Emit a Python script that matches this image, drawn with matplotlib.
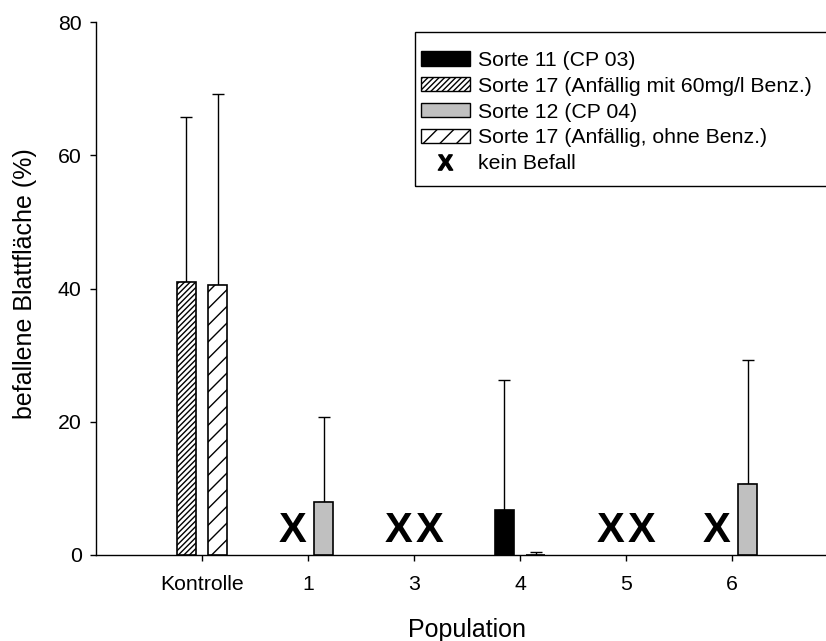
import numpy as np
import matplotlib
matplotlib.use('Agg')
import matplotlib.pyplot as plt
from matplotlib.patches import Patch, Rectangle
from matplotlib.lines import Line2D

plt.rcParams['font.family'] = ['Liberation Sans', 'DejaVu Sans']
plt.rcParams['hatch.linewidth'] = 1.0
plt.rcParams['mathtext.fontset'] = 'custom'
plt.rcParams['mathtext.bf'] = 'Liberation Sans:bold'

# nan = nicht untersucht, 0 = kein Befall (X)
populations = ['Kontrolle', '1', '3', '4', '5', '6']
sorte11 = [np.nan, 0, 0, 6.7, 0, 0]
sorte11_err = [np.nan, 0, 0, 19.5, 0, 0]
sorte12 = [np.nan, 8.0, 0, 0.05, 0, 10.6]
sorte12_err = [np.nan, 12.7, 0, 0.35, 0, 18.7]
sorte17_benz = [41.0, np.nan, np.nan, np.nan, np.nan, np.nan]
sorte17_benz_err = [24.8, np.nan, np.nan, np.nan, np.nan, np.nan]
sorte17_ohne = [40.5, np.nan, np.nan, np.nan, np.nan, np.nan]
sorte17_ohne_err = [28.7, np.nan, np.nan, np.nan, np.nan, np.nan]

fig = plt.figure(figsize=(8.26, 6.41), dpi=100)
ax = fig.add_axes([96/826, 86/641, 742/826, 533/641])

x = np.arange(len(populations))
width = 0.18
off = 0.15
dense, sparse = '//////', '//'

series = [
    (sorte11, sorte11_err, -off, dict(facecolor='black')),
    (sorte17_benz, sorte17_benz_err, -off, dict(facecolor='white', hatch=dense)),
    (sorte12, sorte12_err, off, dict(facecolor='#c0c0c0')),
    (sorte17_ohne, sorte17_ohne_err, off, dict(facecolor='white', hatch=sparse)),
]

for vals, errs, o, style in series:
    vals = np.array(vals, dtype=float)
    errs = np.array(errs, dtype=float)
    m = vals > 0
    ax.errorbar(x[m] + o, vals[m], yerr=[np.zeros(m.sum()), errs[m]], fmt='none',
                ecolor='black', elinewidth=1, capsize=4.3, capthick=1, zorder=2)
    ax.bar(x[m] + o, vals[m], width, edgecolor='black', linewidth=1.2, zorder=3, **style)
    for xi in x[vals == 0]:
        ax.annotate('X', (xi + o, 0), xytext=(0, 9.5), textcoords='offset points',
                    ha='center', va='baseline', fontsize=30, fontweight='bold')

ax.set_xlim(-1, 6)
ax.set_ylim(0, 80)
ax.set_xticks(x)
ax.set_xticklabels(populations)
ax.set_yticks([0, 20, 40, 60, 80])
for s in ['top', 'right']:
    ax.spines[s].set_visible(False)
for s in ['left', 'bottom']:
    ax.spines[s].set_linewidth(1)
ax.tick_params(axis='both', direction='out', length=4.3, width=1, labelsize=15.3)
ax.tick_params(axis='x', pad=10)
ax.tick_params(axis='y', pad=6)

ax.set_xlabel('Population', fontsize=18)
ax.set_ylabel('befallene Blattfläche (%)', fontsize=18)
ax.xaxis.set_label_coords(0.5, -0.118)
ax.yaxis.set_label_coords(-0.08, 0.51)
ax.xaxis.label.set_va('top')

# legend box (runs off the right edge like the original)
fig.patches.append(Rectangle((415/826, 1 - 186/641), 0.6, 154/641, transform=fig.transFigure,
                             fill=False, edgecolor='black', linewidth=1))

handles = [
    Patch(facecolor='black', edgecolor='black', label='Sorte 11 (CP 03)'),
    Patch(facecolor='white', edgecolor='black', hatch=dense, label='Sorte 17 (Anfällig mit 60mg/l Benz.)'),
    Patch(facecolor='#c0c0c0', edgecolor='black', label='Sorte 12 (CP 04)'),
    Patch(facecolor='white', edgecolor='black', hatch=sparse, label='Sorte 17 (Anfällig, ohne Benz.)'),
    Line2D([], [], ls='none', marker=r'$\mathbf{X}$', color='black', markersize=11, label='kein Befall'),
]
fig.legend(handles=handles, loc='upper left', bbox_to_anchor=(421/826, 1 - 51/641),
           borderaxespad=0, borderpad=0, fontsize=15.3, frameon=False,
           handlelength=2.3, handleheight=0.65, handletextpad=0.38, labelspacing=0.32)

fig.savefig('out.png', dpi=100)
